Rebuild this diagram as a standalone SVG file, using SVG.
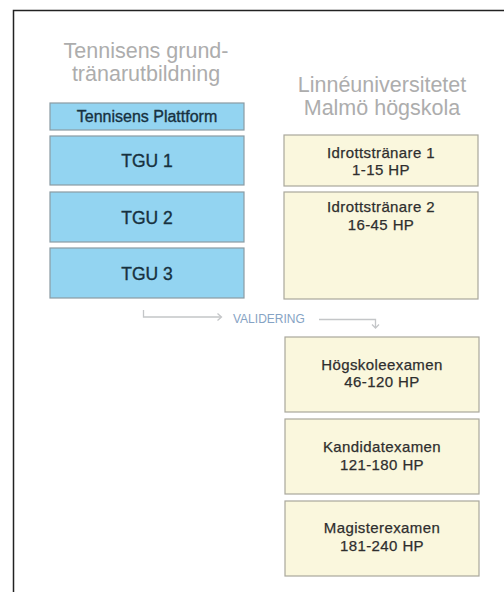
<svg xmlns="http://www.w3.org/2000/svg" width="504" height="592" viewBox="0 0 504 592">
<style>
.title{font-family:"Liberation Sans",Arial,sans-serif;font-size:21.5px;fill:#adadad;text-anchor:middle}
.blue{fill:#93d4f1;stroke:#8a9ba3;stroke-width:1.2}
.yel{fill:#faf7dd;stroke:#a9a79c;stroke-width:1.2}
.bt{font-family:"Liberation Sans",Arial,sans-serif;fill:#17313f;stroke:#17313f;stroke-width:0.35;text-anchor:middle}
.yt{font-family:"Liberation Sans",Arial,sans-serif;font-size:15px;letter-spacing:0.4px;fill:#2e2e2e;stroke:#2e2e2e;stroke-width:0.25;text-anchor:middle}
.conn{fill:none;stroke:#c4c6c8;stroke-width:1.3}
.lbl{font-family:"Liberation Sans",Arial,sans-serif;font-size:12px;fill:#86a3c4}
</style>
<rect width="504" height="592" fill="#ffffff"/>
<path d="M13.5,592 V10.5 H504" fill="none" stroke="#222" stroke-width="1.5"/>
<g id="title-left">
<text class="title" x="146" y="58">Tennisens grund-</text>
<text class="title" x="146" y="81">tränarutbildning</text>
</g>
<g id="title-right">
<text class="title" x="382" y="92">Linnéuniversitetet</text>
<text class="title" x="382" y="115">Malmö högskola</text>
</g>
<g id="plattform">
<rect class="blue" x="50" y="103" width="194" height="27"/>
<text class="bt" x="147" y="121.5" font-size="16">Tennisens Plattform</text>
</g>
<g id="tgu1">
<rect class="blue" x="50" y="136" width="194" height="49"/>
<text class="bt" x="147" y="167" font-size="17.5">TGU 1</text>
</g>
<g id="tgu2">
<rect class="blue" x="50" y="192" width="194" height="50"/>
<text class="bt" x="147" y="223.5" font-size="17.5">TGU 2</text>
</g>
<g id="tgu3">
<rect class="blue" x="50" y="248" width="194" height="50"/>
<text class="bt" x="147" y="279.5" font-size="17.5">TGU 3</text>
</g>
<g id="idrott1">
<rect class="yel" x="284" y="135" width="194" height="51"/>
<text class="yt" x="381" y="158.3">Idrottstränare 1</text>
<text class="yt" x="381" y="174.5">1-15 HP</text>
</g>
<g id="idrott2">
<rect class="yel" x="284" y="192" width="194" height="107"/>
<text class="yt" x="381" y="212">Idrottstränare 2</text>
<text class="yt" x="381" y="229.5">16-45 HP</text>
</g>
<g id="hogskole">
<rect class="yel" x="285" y="337" width="194" height="75"/>
<text class="yt" x="382" y="370">Högskoleexamen</text>
<text class="yt" x="382" y="387">46-120 HP</text>
</g>
<g id="kandidat">
<rect class="yel" x="285" y="419" width="194" height="75"/>
<text class="yt" x="382" y="452">Kandidatexamen</text>
<text class="yt" x="382" y="469.5">121-180 HP</text>
</g>
<g id="magister">
<rect class="yel" x="285" y="501" width="194" height="75"/>
<text class="yt" x="382" y="533">Magisterexamen</text>
<text class="yt" x="382" y="551">181-240 HP</text>
</g>
<g id="connectors">
<path class="conn" d="M143.5,310 V317 H221"/>
<path class="conn" d="M217.5,313.5 L221.5,317 L217.5,320.5"/>
<text class="lbl" x="233" y="322.5">VALIDERING</text>
<path class="conn" d="M319,319.5 H375.5 V328"/>
<path class="conn" d="M372,324.5 L375.5,328 L379,324.5"/>
</g>
</svg>
